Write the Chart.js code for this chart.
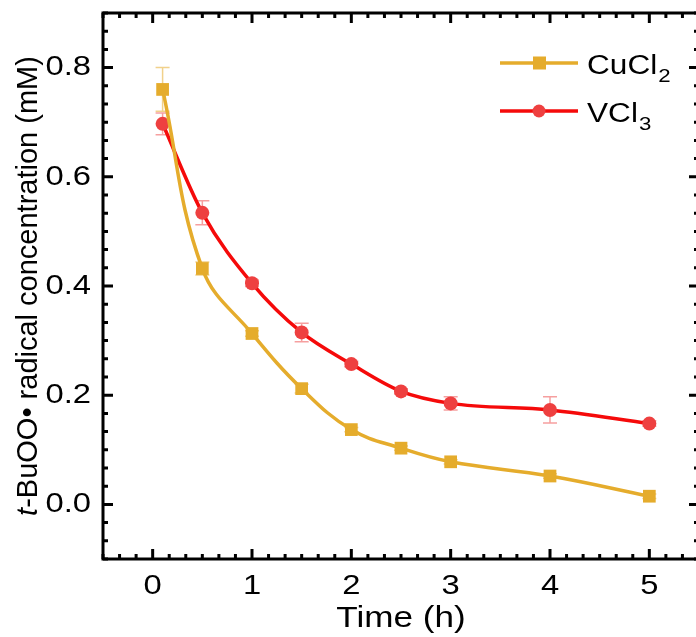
<!DOCTYPE html>
<html>
<head>
<meta charset="utf-8">
<script src="https://cdn.jsdelivr.net/npm/chart.js@4.4.0/dist/chart.umd.min.js"></script>
<style>
  html, body { margin: 0; padding: 0; overflow: hidden; background: #fff; }
  #wrap { width: 710px; height: 637px; }
</style>
</head>
<body>
<div id="wrap"><canvas id="chart" width="710" height="637"></canvas></div>
<script>
// data
const times = [0.1, 0.5, 1, 1.5, 2, 2.5, 3, 4, 5];
const cuValues = [0.760, 0.432, 0.313, 0.212, 0.137, 0.103, 0.078, 0.052, 0.015];
const cuErrors = [0.040, 0.012, 0.005, 0.008, 0.004, 0.004, 0.004, 0.004, 0.004];
const vValues = [0.697, 0.534, 0.405, 0.315, 0.257, 0.207, 0.185, 0.173, 0.148];
const vErrors = [0.020, 0.022, 0.006, 0.017, 0.005, 0.005, 0.012, 0.024, 0.005];
const seriesNames = ["CuCl", "VCl"];
const seriesSubs = ["2", "3"];
const xTicks = [0, 1, 2, 3, 4, 5];
const yTicks = [0.0, 0.2, 0.4, 0.6, 0.8];

const FONT = "'Liberation Sans', Arial, sans-serif";
const CU_COLOR = "#E5AC2C";
const V_LINE = "#F50A0A";
const V_MARK = "#EE4040";
const STRETCH = 1.17; // the figure's lettering is a bit wider than plain Arial

const canvas = document.getElementById("chart");
const ctx2d = canvas.getContext("2d");
let stretchText = true;
const plainFill = ctx2d.fillText.bind(ctx2d);
ctx2d.fillText = function (text, x, y, maxWidth) {
    if (!stretchText) return plainFill(text, x, y, maxWidth);
    this.save();
    this.translate(x, y);
    this.scale(STRETCH, 1);
    plainFill(text, 0, 0);
    this.restore();
};

function toPoints(xs, ys) {
    return xs.map((x, i) => ({ x: x, y: ys[i] }));
}

// frame + inward major/minor ticks on all four sides
const framePlugin = {
    id: "frame",
    afterDraw(chart) {
        const ctx = chart.ctx;
        const a = chart.chartArea;
        const xs = chart.scales.x, ys = chart.scales.y;
        ctx.save();
        ctx.strokeStyle = "#000";
        ctx.lineWidth = 3;
        ctx.lineCap = "butt";
        ctx.beginPath();
        // minor x ticks every 1/6 h
        for (let k = -3; k <= 33; k++) {
            const px = xs.getPixelForValue(k / 6);
            const len = (k % 6 === 0) ? 10 : 5;
            ctx.moveTo(px, a.bottom); ctx.lineTo(px, a.bottom - len);
            ctx.moveTo(px, a.top); ctx.lineTo(px, a.top + len);
        }
        // y ticks every 0.2/6
        for (let k = -3; k <= 27; k++) {
            const py = ys.getPixelForValue(k * 0.2 / 6);
            const len = (k % 6 === 0) ? 10 : 5;
            ctx.moveTo(a.left, py); ctx.lineTo(a.left + len, py);
            ctx.moveTo(a.right, py); ctx.lineTo(a.right - len, py);
        }
        ctx.stroke();
        ctx.strokeRect(a.left, a.top, a.right - a.left, a.bottom - a.top);

        // y axis title with italic t
        stretchText = false;
        ctx.fillStyle = "#000";
        ctx.translate(37, (a.top + a.bottom) / 2);
        ctx.rotate(-Math.PI / 2);
        ctx.textBaseline = "alphabetic";
        ctx.textAlign = "left";
        const italic = "italic 29px " + FONT;
        const normal = "29px " + FONT;
        ctx.font = italic;
        const w1 = ctx.measureText("t").width;
        ctx.font = normal;
        const rest = "-BuOO\u2022 radical concentration (mM)";
        const w2 = ctx.measureText(rest).width;
        const sx = -(w1 + w2) / 2;
        ctx.font = italic;
        ctx.fillText("t", sx, 0);
        ctx.font = normal;
        ctx.fillText(rest, sx + w1, 0);
        stretchText = true;
        ctx.restore();

        // legend
        ctx.save();
        const rows = [
            { y: 63, color: CU_COLOR, mark: CU_COLOR, shape: "rect" },
            { y: 111, color: V_LINE, mark: V_MARK, shape: "circle" }
        ];
        rows.forEach((r, i) => {
            ctx.strokeStyle = r.color;
            ctx.lineWidth = 3.5;
            ctx.beginPath();
            ctx.moveTo(500, r.y); ctx.lineTo(578, r.y);
            ctx.stroke();
            ctx.fillStyle = r.mark;
            if (r.shape === "rect") {
                ctx.fillRect(533, r.y - 6.5, 13, 13);
            } else {
                ctx.beginPath();
                ctx.arc(539, r.y, 6.5, 0, Math.PI * 2);
                ctx.fill();
            }
            ctx.fillStyle = "#000";
            ctx.textBaseline = "alphabetic";
            ctx.textAlign = "left";
            ctx.font = "27px " + FONT;
            ctx.fillText(seriesNames[i], 587, r.y + 11);
            const w = ctx.measureText(seriesNames[i]).width * STRETCH;
            ctx.font = "19px " + FONT;
            ctx.fillText(seriesSubs[i], 587 + w + 1, r.y + 19);
        });
        ctx.restore();
    }
};

// error bars behind the markers
const errorBarPlugin = {
    id: "errbars",
    beforeDatasetsDraw(chart) {
        const ctx = chart.ctx;
        const xs = chart.scales.x, ys = chart.scales.y;
        ctx.save();
        ctx.lineWidth = 1.5;
        chart.data.datasets.forEach(ds => {
            ctx.strokeStyle = ds.errColor;
            ctx.beginPath();
            ds.data.forEach((p, i) => {
                const px = xs.getPixelForValue(p.x);
                const top = ys.getPixelForValue(p.y + ds.errors[i]);
                const bot = ys.getPixelForValue(p.y - ds.errors[i]);
                ctx.moveTo(px, top); ctx.lineTo(px, bot);
                ctx.moveTo(px - 7, top); ctx.lineTo(px + 7, top);
                ctx.moveTo(px - 7, bot); ctx.lineTo(px + 7, bot);
            });
            ctx.stroke();
        });
        ctx.restore();
    }
};

function noPad(s) {
    s.paddingTop = 0; s.paddingBottom = 0;
    s.paddingLeft = 0; s.paddingRight = 0;
}

new Chart(canvas, {
    type: "line",
    data: {
        datasets: [
            {
                label: "CuCl2",
                data: toPoints(times, cuValues),
                errors: cuErrors,
                errColor: "rgba(229,172,44,0.55)",
                borderColor: CU_COLOR,
                backgroundColor: CU_COLOR,
                borderWidth: 3.5,
                pointStyle: "rect",
                pointRadius: 9,
                pointBorderWidth: 0,
                tension: 0.4
            },
            {
                label: "VCl3",
                data: toPoints(times, vValues),
                errors: vErrors,
                errColor: "rgba(238,64,64,0.5)",
                borderColor: V_LINE,
                backgroundColor: V_MARK,
                pointBackgroundColor: V_MARK,
                borderWidth: 3.5,
                pointStyle: "circle",
                pointRadius: 7,
                pointBorderWidth: 0,
                tension: 0.4,
                cubicInterpolationMode: "monotone"
            }
        ]
    },
    options: {
        responsive: false,
        animation: false,
        devicePixelRatio: 1,
        layout: { padding: { left: 0, top: 13, right: 11, bottom: 0 } },
        plugins: { legend: { display: false }, tooltip: { enabled: false } },
        scales: {
            x: {
                type: "linear",
                min: -0.5,
                max: 5.5,
                afterFit: s => { s.height = 78; noPad(s); },
                afterBuildTicks: s => { s.ticks = xTicks.map(v => ({ value: v })); },
                grid: { display: false, drawTicks: false },
                border: { display: false },
                ticks: {
                    color: "#000",
                    padding: 10,
                    maxRotation: 0,
                    font: { family: FONT, size: 28 },
                    callback: v => String(v)
                },
                title: {
                    display: true,
                    text: "Time (h)",
                    color: "#000",
                    padding: { top: -9, bottom: 0 },
                    font: { family: FONT, size: 30 }
                }
            },
            y: {
                type: "linear",
                min: -0.1,
                max: 0.9,
                afterFit: s => { s.width = 103; noPad(s); },
                afterBuildTicks: s => { s.ticks = yTicks.map(v => ({ value: v })); },
                grid: { display: false, drawTicks: false },
                border: { display: false },
                ticks: {
                    color: "#000",
                    padding: 12,
                    font: { family: FONT, size: 28 },
                    callback: v => v.toFixed(1)
                }
            }
        }
    },
    plugins: [errorBarPlugin, framePlugin]
});
</script>
</body>
</html>
